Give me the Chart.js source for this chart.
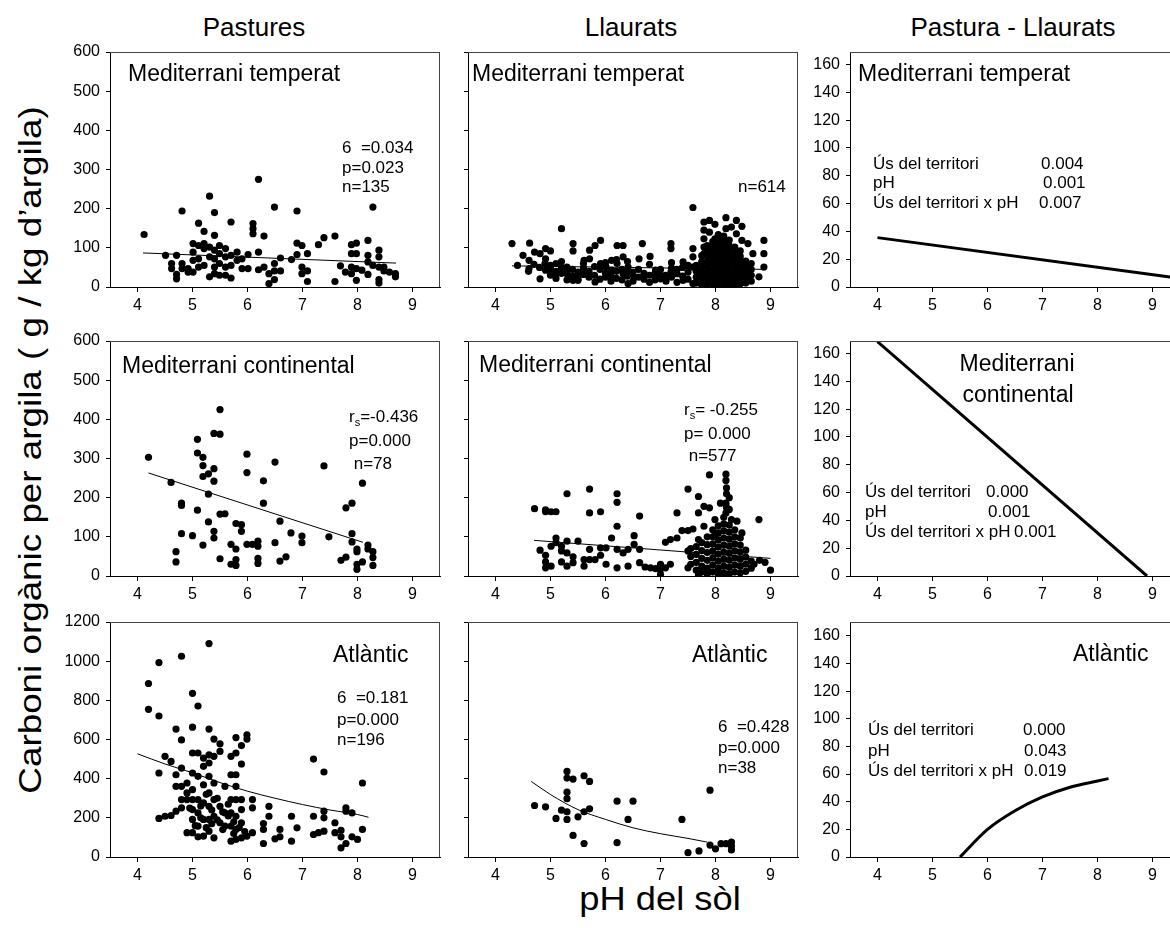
<!DOCTYPE html>
<html><head><meta charset="utf-8">
<script src="https://cdn.jsdelivr.net/npm/chart.js@4.4.1/dist/chart.umd.min.js"></script>
<style>
html,body{margin:0;padding:0;background:#fff;overflow:hidden;}
#wrap{position:relative;width:1170px;height:928px;overflow:hidden;background:#fff;font-family:'Liberation Sans',Arial,sans-serif;color:#000;}
#wrap canvas{position:absolute;}
.t{position:absolute;white-space:nowrap;line-height:1;}
</style></head><body><div id="wrap">
<div class="t" style="left:254px;top:14px;font-size:26px;transform:translateX(-50%)">Pastures</div>
<div class="t" style="left:631px;top:14px;font-size:26px;transform:translateX(-50%)">Llaurats</div>
<div class="t" style="left:1013px;top:14px;font-size:26px;transform:translateX(-50%)">Pastura - Llaurats</div>
<div class="t" style="left:660px;top:882px;font-size:33px;transform:translateX(-50%) scaleX(1.1)">pH del sòl</div>
<div class="t" style="left:30px;top:450px;font-size:32px;transform:translate(-50%,-50%) rotate(-90deg) scaleX(1.15)">Carboni orgànic per argila ( g / kg d’argila)</div>
</div>
<script>
// ---- tick labels ----
const xTicks = [4,5,6,7,8,9];
const yTicks600 = [0,100,200,300,400,500,600];
const yTicks1200 = [0,200,400,600,800,1000,1200];
const yTicksDiff = [0,20,40,60,80,100,120,140,160];

// ---- Pastures, Mediterrani temperat ----
const pastTempPts = [[4.12,134],[4.51,81],[4.62,60],[4.62,47],[4.71,81],[4.71,32],[4.71,21],[4.81,194],[4.81,60],[4.81,47],[4.92,47],[4.92,38],[5.01,111],[5.01,89],[5.01,68],[5.01,38],[5.11,163],[5.11,106],[5.11,72],[5.11,51],[5.21,142],[5.21,111],[5.21,98],[5.21,55],[5.31,232],[5.31,102],[5.31,77],[5.31,26],[5.40,190],[5.40,132],[5.40,94],[5.40,72],[5.40,51],[5.40,34],[5.49,106],[5.49,85],[5.49,60],[5.49,30],[5.60,98],[5.60,77],[5.60,51],[5.60,30],[5.70,166],[5.70,81],[5.70,55],[5.70,23],[5.81,89],[5.81,68],[5.90,72],[5.90,47],[6.01,83],[6.01,47],[6.10,162],[6.10,149],[6.10,136],[6.20,275],[6.20,89],[6.20,44],[6.30,130],[6.30,51],[6.39,9],[6.39,34],[6.49,204],[6.49,60],[6.49,41],[6.49,19],[6.60,74],[6.60,41],[6.80,70],[6.90,194],[6.90,112],[6.90,83],[6.99,106],[6.99,51],[6.99,34],[7.09,85],[7.09,41],[7.09,14],[7.29,108],[7.39,126],[7.59,130],[7.59,14],[7.69,54],[7.78,38],[7.89,108],[7.89,85],[7.89,51],[7.89,34],[7.98,112],[7.98,85],[7.98,47],[7.98,17],[8.08,43],[8.19,119],[8.19,81],[8.19,64],[8.19,32],[8.28,204],[8.28,55],[8.39,94],[8.39,77],[8.39,51],[8.39,19],[8.39,10],[8.48,51],[8.48,41],[8.58,38],[8.69,34],[8.69,26]];
const pastTempFit = [[4.1,87],[8.7,61]];

// ---- Llaurats, Mediterrani temperat ----
const llauTempPts = [[4.30,111],[4.50,81],[4.62,112],[4.61,68],[4.61,47],[4.71,89],[4.81,21],[4.81,85],[4.91,98],[4.91,72],[4.91,43],[5.00,92],[5.10,60],[5.10,34],[5.20,149],[5.30,51],[5.30,34],[5.41,111],[5.41,92],[5.41,17],[5.41,27],[5.50,17],[5.50,30],[5.61,68],[5.71,94],[5.71,72],[5.81,106],[5.81,13],[5.91,119],[5.91,60],[6.01,51],[6.11,68],[6.11,43],[6.21,106],[6.21,60],[6.32,106],[6.32,77],[6.32,34],[6.41,9],[6.41,51],[6.52,26],[6.61,72],[6.67,111],[6.81,78],[6.91,26],[6.91,43],[7.00,21],[7.09,30],[7.19,111],[7.19,98],[7.19,38],[7.30,34],[7.41,64],[7.41,17],[7.50,38],[7.59,203],[7.59,98],[7.59,77],[7.59,51],[7.59,9],[7.70,34],[7.79,166],[7.79,145],[7.79,123],[7.79,102],[7.79,85],[7.79,60],[7.79,34],[7.89,170],[7.89,140],[7.89,94],[7.99,160],[7.99,123],[8.09,123],[8.19,177],[8.19,149],[8.29,153],[8.38,170],[8.38,136],[8.48,155],[8.48,119],[8.59,111],[8.68,85],[8.79,26],[8.88,119],[8.88,85],[8.88,51],
[5.0,30],[5.0,45],[5.1,22],[5.1,40],[5.2,35],[5.2,50],[5.3,18],[5.3,42],[5.4,28],[5.4,45],[5.5,20],[5.5,38],[5.6,32],[5.6,48],[5.7,25],[5.7,40],[5.8,30],[5.8,52],[5.9,20],[5.9,45],[6.0,35],[6.0,25],[6.1,30],[6.1,15],[6.2,22],[6.2,40],[6.3,18],[6.3,45],[6.4,28],[6.4,40],[6.5,15],[6.5,38],[6.6,25],[6.6,45],[6.7,20],[6.7,35],[6.8,12],[6.8,30],[6.9,18],[6.9,35],[7.0,30],[7.0,45],[7.1,15],[7.1,22],[7.2,25],[7.2,48],[7.3,12],[7.3,45],[7.4,28],[7.4,50],[7.5,20],[7.5,55],[4.4,55],[4.6,40],[4.7,58],[4.8,50],[4.9,60],[5.0,55],[5.2,65],[5.6,60],[6.0,62],[6.2,70],[6.4,65],[6.8,58],[7.2,62],
[7.65,10],[7.65,25],[7.65,40],[7.65,55],
[7.75,5],[7.75,20],[7.75,35],[7.75,50],[7.75,65],[7.75,80],
[7.85,8],[7.85,22],[7.85,36],[7.85,50],[7.85,64],[7.85,78],[7.85,92],[7.85,106],
[7.95,5],[7.95,18],[7.95,32],[7.95,46],[7.95,60],[7.95,74],[7.95,88],[7.95,102],[7.95,116],
[8.05,8],[8.05,22],[8.05,36],[8.05,50],[8.05,64],[8.05,78],[8.05,92],[8.05,106],[8.05,120],[8.05,134],
[8.15,5],[8.15,18],[8.15,32],[8.15,46],[8.15,60],[8.15,74],[8.15,88],[8.15,102],[8.15,116],[8.15,130],
[8.25,8],[8.25,22],[8.25,36],[8.25,50],[8.25,64],[8.25,78],[8.25,92],[8.25,106],[8.25,120],
[8.35,5],[8.35,18],[8.35,32],[8.35,46],[8.35,60],[8.35,74],[8.35,88],[8.35,102],
[8.45,8],[8.45,22],[8.45,36],[8.45,50],[8.45,64],[8.45,78],[8.45,92],
[8.55,10],[8.55,24],[8.55,38],[8.55,52],[8.55,66],
[8.65,15],[8.65,30],[8.65,45],[8.65,60]];
const llauTempFit = [[4.3,54],[8.9,45]];

// ---- Pastures, Mediterrani continental ----
const pastContPts = [[4.20,303],[4.61,239],[4.70,62],[4.70,36],[4.80,186],[4.80,180],[4.80,108],[5.00,103],[5.09,349],[5.09,314],[5.09,168],[5.19,303],[5.19,282],[5.19,254],[5.19,79],[5.29,261],[5.29,209],[5.29,138],[5.39,364],[5.39,274],[5.39,242],[5.39,114],[5.39,97],[5.50,425],[5.50,362],[5.50,158],[5.50,44],[5.59,159],[5.70,81],[5.70,30],[5.79,134],[5.79,69],[5.79,42],[5.79,27],[5.89,131],[5.89,114],[5.99,311],[5.99,264],[5.99,81],[6.09,81],[6.19,89],[6.19,76],[6.19,45],[6.19,32],[6.29,243],[6.29,186],[6.50,291],[6.50,85],[6.59,140],[6.59,38],[6.70,49],[6.79,110],[6.99,102],[6.99,85],[7.39,281],[7.48,100],[7.70,40],[7.79,48],[7.79,174],[7.90,186],[7.90,108],[7.90,87],[7.99,69],[7.99,62],[7.99,30],[7.99,17],[8.09,237],[8.09,36],[8.19,79],[8.19,69],[8.28,62],[8.28,47],[8.28,27]];
const pastContFit = [[4.2,263],[8.1,86]];

// ---- Llaurats, Mediterrani continental ----
const llauContPts = [[4.71,172],[4.81,66],[4.91,169],[4.91,164],[4.91,53],[4.91,36],[4.91,21],[5.01,164],[5.01,76],[5.01,25],[5.10,164],[5.10,97],[5.10,85],[5.20,76],[5.20,64],[5.20,36],[5.30,210],[5.30,89],[5.30,59],[5.30,25],[5.41,49],[5.41,34],[5.50,89],[5.61,42],[5.61,25],[5.71,222],[5.71,161],[5.71,68],[5.71,42],[5.81,42],[5.91,164],[5.91,72],[5.91,53],[6.01,72],[6.01,30],[6.11,97],[6.21,210],[6.21,188],[6.21,127],[6.21,68],[6.21,21],[6.32,59],[6.41,25],[6.41,68],[6.52,103],[6.52,81],[6.62,153],[6.62,68],[6.62,34],[6.72,23],[6.82,21],[6.91,19],[7.00,4],[7.00,30],[7.00,17],[7.09,86],[7.09,21],[7.18,93],[7.18,30],[7.30,97],[7.30,161],[7.39,116],[7.50,222],[7.50,116],[7.50,64],[7.50,21],[7.59,120],[7.69,203],[7.69,161],[7.69,93],[7.69,4],[7.79,178],[7.79,127],[7.89,258],[7.89,174],[7.99,144],[7.99,102],[8.09,186],[8.19,260],[8.19,244],[8.19,186],[8.19,161],[8.29,144],[8.39,140],[8.48,110],[8.79,144],[9.00,15],[8.2,175],[8.2,210],[8.2,225],[8.8,40],[8.9,35],[8.7,30],
[7.55,30],[7.55,50],[7.55,70],
[7.65,15],[7.65,35],[7.65,55],[7.65,75],
[7.75,10],[7.75,25],[7.75,45],[7.75,65],[7.75,85],
[7.85,5],[7.85,20],[7.85,40],[7.85,60],[7.85,80],[7.85,100],
[7.95,10],[7.95,28],[7.95,46],[7.95,64],[7.95,82],[7.95,100],[7.95,118],
[8.05,5],[8.05,20],[8.05,38],[8.05,56],[8.05,74],[8.05,92],[8.05,110],[8.05,128],
[8.15,8],[8.15,25],[8.15,43],[8.15,61],[8.15,79],[8.15,97],[8.15,115],[8.15,133],[8.15,150],
[8.25,5],[8.25,22],[8.25,40],[8.25,58],[8.25,76],[8.25,94],[8.25,112],[8.25,130],[8.25,170],[8.25,200],
[8.35,10],[8.35,28],[8.35,46],[8.35,64],[8.35,82],[8.35,100],[8.35,118],
[8.45,8],[8.45,25],[8.45,43],[8.45,61],[8.45,79],[8.45,97],
[8.55,12],[8.55,30],[8.55,48],[8.55,66],
[8.65,20],[8.65,38]];
const llauContFit = [[4.7,91],[9.0,45]];

// ---- Pastures, Atlantic ----
const pastAtlPts = [[4.20,886],[4.20,754],[4.39,993],[4.39,720],[4.39,429],[4.39,197],[4.50,514],[4.50,208],[4.61,488],[4.61,212],[4.70,653],[4.70,420],[4.70,361],[4.70,234],[4.80,1025],[4.80,598],[4.80,454],[4.80,361],[4.80,293],[4.80,251],[4.90,378],[4.90,327],[4.90,293],[4.90,124],[5.00,836],[5.00,663],[5.00,531],[5.00,429],[5.00,344],[5.00,293],[5.00,242],[5.00,192],[5.00,124],[5.10,771],[5.10,531],[5.10,412],[5.10,293],[5.10,225],[5.10,158],[5.10,103],[5.20,505],[5.20,463],[5.20,369],[5.20,276],[5.20,192],[5.20,107],[5.30,1090],[5.30,653],[5.30,522],[5.30,480],[5.30,412],[5.30,327],[5.30,259],[5.30,192],[5.30,132],[5.39,602],[5.39,514],[5.39,378],[5.39,293],[5.39,208],[5.39,98],[5.50,578],[5.50,539],[5.50,259],[5.50,175],[5.59,361],[5.59,225],[5.59,158],[5.70,514],[5.70,420],[5.70,293],[5.70,225],[5.70,158],[5.70,81],[5.79,610],[5.79,531],[5.79,420],[5.79,361],[5.79,293],[5.79,208],[5.79,141],[5.79,90],[5.89,569],[5.89,475],[5.89,293],[5.89,242],[5.89,175],[5.89,98],[5.99,624],[5.99,602],[5.99,107],[6.09,293],[6.09,251],[6.09,124],[6.29,171],[6.29,141],[6.29,69],[6.39,259],[6.39,208],[6.50,93],[6.59,141],[6.59,103],[6.80,208],[6.80,81],[6.90,149],[7.20,500],[7.20,208],[7.20,115],[7.29,124],[7.39,434],[7.39,234],[7.39,200],[7.39,132],[7.59,175],[7.59,124],[7.70,136],[7.70,47],[7.70,103],[7.79,251],[7.79,234],[7.79,69],[7.90,225],[7.90,103],[8.00,90],[8.09,378],[8.09,141],
[5.05,160],[5.15,200],[5.25,150],[5.35,240],[5.45,190],[5.55,140],[5.65,210],[5.75,180],[5.85,150],[5.95,130],[5.15,260],[5.45,300],[5.65,270],[5.25,320],[4.95,250],[5.55,230],[5.75,120],[5.35,170]];
const pastAtlFit = [[4.0,527],[4.5,475],[5.0,430],[5.5,380],[6.0,336],[6.5,300],[7.0,268],[7.5,240],[8.0,217],[8.2,203]];

// ---- Llaurats, Atlantic ----
const llauAtlPts = [[4.71,263],[4.91,256],[5.10,197],[5.20,239],[5.30,437],[5.30,403],[5.30,331],[5.30,298],[5.30,231],[5.30,192],[5.41,398],[5.41,110],[5.50,205],[5.61,415],[5.61,231],[5.61,69],[5.71,386],[5.71,246],[6.21,285],[6.21,73],[6.41,192],[6.50,285],[7.39,192],[7.50,22],[7.70,31],[7.90,341],[7.90,61],[8.00,42],[8.10,68],[8.19,68],[8.29,76],[8.29,56],[8.29,36]];
const llauAtlFit = [[4.65,386],[5.0,319],[5.5,242],[6.0,192],[6.5,149],[7.0,119],[7.5,95],[7.85,76]];

// ---- Pastura - Llaurats (model lines) ----
const diffTempFit = [[4.0,35.5],[9.35,7]];
const diffContFit = [[4.0,168.5],[8.9,0]];
const diffAtlFit = [[5.5,0],[6.0,20],[6.5,33.5],[7.0,43.5],[7.5,50.5],[8.0,55],[8.2,56.7]];

// ---- layout ----
const COL_LEFT=[110,468,850], COL_YW=[62,24,50];
const ROW_TOP=[52,341,622], PLOT_H=235, PLOT_W=330, TOPPAD=24, XH=36, RP=8;
const FONT="'Liberation Sans', Arial, sans-serif";
Chart.defaults.font.family=FONT;
Chart.defaults.color='#000';

const panels=[
 {row:0,col:0,pts:pastTempPts,fit:pastTempFit,fw:1,yMax:600,yT:yTicks600,lab:true,notes:[[18,28.5,23,'Mediterrani temperat'],[232,101,17,'6  =0.034'],[232,121,17,'p=0.023'],[232,140,17,'n=135']]},
 {row:0,col:1,pts:llauTempPts,fit:llauTempFit,fw:1,yMax:600,yT:yTicks600,lab:false,notes:[[4,28.5,23,'Mediterrani temperat'],[270,140,17,'n=614']]},
 {row:0,col:2,pts:null,fit:diffTempFit,fw:3,yMax:169,yT:yTicksDiff,lab:true,notes:[[8,28.5,23,'Mediterrani temperat'],[23,117,17,'Ús del territori'],[191,117,17,'0.004'],[23,136,17,'pH'],[193,136,17,'0.001'],[23,156,17,'Ús del territori x pH'],[189,156,17,'0.007']]},
 {row:1,col:0,pts:pastContPts,fit:pastContFit,fw:1,yMax:600,yT:yTicks600,lab:true,notes:[[12,32,23,'Mediterrani continental'],[239,81,17,'r_s=-0.436'],[239,105,17,'p=0.000'],[239,128,17,' n=78']]},
 {row:1,col:1,pts:llauContPts,fit:llauContFit,fw:1,yMax:600,yT:yTicks600,lab:false,notes:[[11,31,23,'Mediterrani continental'],[216,74,17,'r_s= -0.255'],[216,98,17,'p= 0.000'],[216,120,17,' n=577']]},
 {row:1,col:2,pts:null,fit:diffContFit,fw:3,yMax:169,yT:yTicksDiff,lab:true,notes:[[167,29.5,23,'Mediterrani','center'],[168,61,23,'continental','center'],[15,155.5,17,'Ús del territori'],[136,155.5,17,'0.000'],[15,175.5,17,'pH'],[138,175.5,17,'0.001'],[15,196,17,'Ús del territori x pH'],[164,196,17,'0.001']]},
 {row:2,col:0,pts:pastAtlPts,fit:pastAtlFit,fw:1,yMax:1200,yT:yTicks1200,lab:true,notes:[[223,39.5,23,'Atlàntic'],[227,81,17,'6  =0.181'],[227,102.5,17,'p=0.000'],[227,122.5,17,'n=196']]},
 {row:2,col:1,pts:llauAtlPts,fit:llauAtlFit,fw:1,yMax:1200,yT:yTicks1200,lab:false,notes:[[224,40,23,'Atlàntic'],[250,110,17,'6  =0.428'],[250,131,17,'p=0.000'],[250,151,17,'n=38']]},
 {row:2,col:2,pts:null,fit:diffAtlFit,fw:3,yMax:170,yT:yTicksDiff,lab:true,notes:[[223,39,23,'Atlàntic'],[18,112.5,17,'Ús del territori'],[173,112.5,17,'0.000'],[18,133.5,17,'pH'],[174,133.5,17,'0.043'],[18,154,17,'Ús del territori x pH'],[174,154,17,'0.019']]}
];

const deco={id:'deco',afterDraw(chart,args,opts){
  const {ctx,chartArea:a}=chart;
  ctx.save();
  ctx.strokeStyle='#444';ctx.lineWidth=1;
  ctx.beginPath();
  ctx.moveTo(a.left,Math.round(a.top)+0.5);ctx.lineTo(a.right,Math.round(a.top)+0.5);
  ctx.moveTo(Math.round(a.right)-0.5,a.top);ctx.lineTo(Math.round(a.right)-0.5,a.bottom);
  ctx.stroke();
  ctx.fillStyle='#000';ctx.textBaseline='alphabetic';
  (opts.notes||[]).forEach(n=>{
    const [dx,dy,size,text,align]=n;
    let x=a.left+dx, y=a.top+dy;
    ctx.font=size+'px '+FONT;
    ctx.textAlign=align||'left';
    const i=text.indexOf('_');
    if(i<0){ctx.fillText(text,x,y);return;}
    const p1=text.slice(0,i), s=text.charAt(i+1), p2=text.slice(i+2);
    ctx.textAlign='left';
    ctx.fillText(p1,x,y); x+=ctx.measureText(p1).width;
    ctx.font=Math.round(size*0.65)+'px '+FONT;
    ctx.fillText(s,x,y+4); x+=ctx.measureText(s).width;
    ctx.font=size+'px '+FONT;
    ctx.fillText(p2,x,y);
  });
  ctx.restore();
}};

const wrap=document.getElementById('wrap');
const toXY=arr=>arr.map(([x,y])=>({x,y}));
panels.forEach(p=>{
  const yw=COL_YW[p.col];
  const W=yw+PLOT_W+RP, H=TOPPAD+PLOT_H+XH;
  const cv=document.createElement('canvas');
  cv.width=W;cv.height=H;
  cv.style.left=(COL_LEFT[p.col]-yw)+'px';cv.style.top=(ROW_TOP[p.row]-TOPPAD)+'px';
  cv.style.width=W+'px';cv.style.height=H+'px';
  wrap.appendChild(cv);
  const datasets=[];
  datasets.push({data:toXY(p.fit),showLine:true,pointRadius:0,borderColor:'#000',borderWidth:p.fw,cubicInterpolationMode:'monotone',fill:false,order:0});
  if(p.pts) datasets.push({data:toXY(p.pts),pointRadius:3.6,pointBackgroundColor:'#000',pointBorderWidth:0,pointBorderColor:'#000',showLine:false,order:1});
  new Chart(cv,{type:'scatter',data:{datasets},
    options:{responsive:false,animation:false,events:[],
      layout:{padding:{top:TOPPAD,right:RP,left:0,bottom:0}},
      plugins:{legend:{display:false},tooltip:{enabled:false},deco:{notes:p.notes}},
      scales:{
        x:{type:'linear',min:3.5,max:9.5,
          afterBuildTicks:s=>{s.ticks=xTicks.map(v=>({value:v}));},
          afterFit:s=>{s.height=XH;},
          ticks:{color:'#000',font:{size:16},padding:4,maxRotation:0,autoSkip:false,callback:v=>String(v)},
          grid:{drawOnChartArea:false,drawTicks:true,tickLength:5,color:'#000',lineWidth:1},
          border:{display:true,color:'#000',width:1}},
        y:{type:'linear',min:0,max:p.yMax,
          afterBuildTicks:s=>{s.ticks=p.yT.map(v=>({value:v}));},
          afterFit:s=>{s.width=yw;},
          ticks:{display:p.lab,color:'#000',font:{size:16},padding:6,autoSkip:false,callback:v=>String(v)},
          grid:{drawOnChartArea:false,drawTicks:true,tickLength:4,color:'#000',lineWidth:1},
          border:{display:true,color:'#000',width:1}}
      }},
    plugins:[deco]});
});
</script>
</body></html>
